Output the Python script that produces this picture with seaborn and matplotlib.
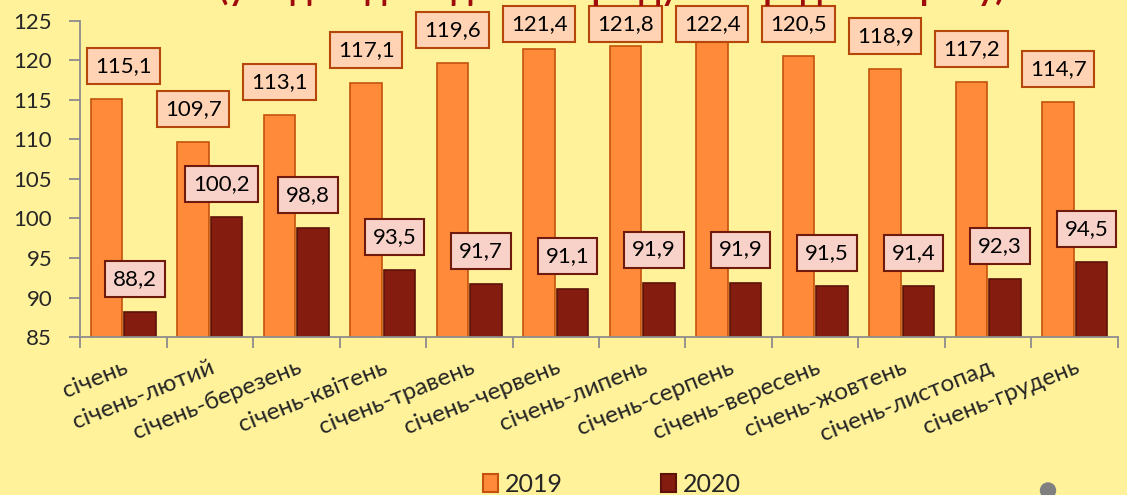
import matplotlib.pyplot as plt
import matplotlib.patches as mpatches
import numpy as np
import pandas as pd
import seaborn as sns

months = ['січень', 'січень-лютий', 'січень-березень', 'січень-квітень',
          'січень-травень', 'січень-червень', 'січень-липень', 'січень-серпень',
          'січень-вересень', 'січень-жовтень', 'січень-листопад', 'січень-грудень']
years = ['2019', '2020']
values_2019 = [115.1, 109.7, 113.1, 117.1, 119.6, 121.4, 121.8, 122.4, 120.5, 118.9, 117.2, 114.7]
values_2020 = [88.2, 100.2, 98.8, 93.5, 91.7, 91.1, 91.9, 91.9, 91.5, 91.4, 92.3, 94.5]
y_ticks = [85, 90, 95, 100, 105, 110, 115, 120, 125]
title = '(у % до відповідного періоду попереднього року)'

BG = '#FFF29B'
bar_colors = {'2019': '#FF8A3A', '2020': '#841C10'}
edge_colors = {'2019': '#C4520C', '2020': '#5E1208'}
box_fill = {'2019': '#FFD3B4', '2020': '#F8D2C8'}
box_edge = {'2019': '#B5470A', '2020': '#6E1A0C'}

sns.set_theme(style='ticks')
plt.rcParams['font.family'] = ['Lato', 'Noto Sans', 'DejaVu Sans']

df = pd.DataFrame({
    'month': months * 2,
    'year': [years[0]] * len(months) + [years[1]] * len(months),
    'value': values_2019 + values_2020,
})

fig = plt.figure(figsize=(11.27, 4.95), dpi=100, facecolor=BG)
ax = fig.add_axes([0.071, 0.319, 0.921, 0.639])
ax.set_facecolor(BG)

sns.barplot(data=df, x='month', y='value', hue='year', order=months, hue_order=years,
            palette=bar_colors, saturation=1, width=0.77, gap=0.06, ax=ax, legend=False)

for cont, yr in zip(ax.containers, years):
    for bar in cont:
        bar.set_edgecolor(edge_colors[yr])
        bar.set_linewidth(1.2)

ax.set_ylim(85, 125)
ax.set_xlim(-0.5, len(months) - 0.5)
ax.set_yticks(y_ticks)
ax.set_xlabel('')
ax.set_ylabel('')

# data labels in boxes above the bars (kept inside the plot area near the top)
fig_h = fig.get_figheight() * fig.dpi
for cont, yr in zip(ax.containers, years):
    for i, bar in enumerate(cont):
        x = bar.get_x() + bar.get_width() / 2
        h = bar.get_height()
        top_px = fig_h - ax.transData.transform((x, h))[1]
        dy = min(33, top_px - 24)
        dx = -5 if yr == '2020' else (17 if i == 0 else 0)
        ax.annotate(f'{h:.1f}'.replace('.', ','), (x, h), xytext=(dx, dy),
                    textcoords='offset pixels', ha='center', va='center',
                    fontsize=16, color='black', annotation_clip=False,
                    bbox=dict(boxstyle='square,pad=0.36', fc=box_fill[yr],
                              ec=box_edge[yr], lw=1.5))

# axes styling
sns.despine(ax=ax)
for side in ['left', 'bottom']:
    ax.spines[side].set_color('#8C8C8C')
    ax.spines[side].set_linewidth(1.3)
ax.tick_params(axis='y', length=8, width=1.3, color='#8C8C8C', labelsize=16, pad=12)
ax.set_xticks(np.arange(len(months)))
ax.set_xticks(np.arange(len(months) + 1) - 0.5, minor=True)
ax.tick_params(axis='x', which='major', length=0, labelsize=17.5, pad=14)
ax.tick_params(axis='x', which='minor', length=8, width=1.3, color='#8C8C8C')
ax.set_xticklabels(months, rotation=22, ha='right', rotation_mode='anchor')

# legend at the bottom
handles = [mpatches.Patch(fc=bar_colors[y], ec=edge_colors[y], lw=1.5) for y in years]
fig.legend(handles, years, loc='upper center', bbox_to_anchor=(0.543, 0.045), ncol=2,
           frameon=False, fontsize=18, handlelength=0.6, handleheight=0.7,
           handletextpad=0.3, columnspacing=3.9, borderaxespad=0, borderpad=0)

# title, clipped by the top edge as in the source
fig.text(0.543, 1.0, title, ha='center', va='baseline', fontsize=24.5,
         fontweight='bold', color='#A00C0C')

fig.patches.append(mpatches.Circle((10.48, 0.045), 0.075, transform=fig.dpi_scale_trans,
                                   color='#808080', figure=fig))

fig.savefig('out.png', dpi=100, facecolor=BG)
